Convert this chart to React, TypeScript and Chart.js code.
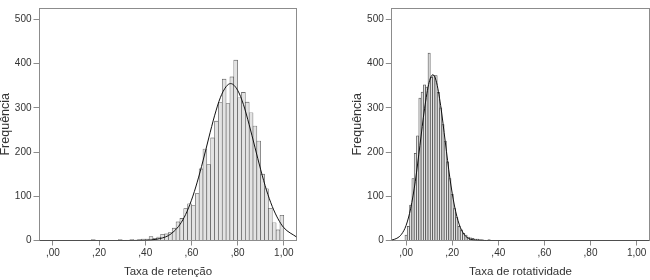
import React, { useEffect, useRef } from "react";
import { Chart, registerables } from "chart.js";

Chart.register(...registerables);

// ---------- data: Taxa de retenção ----------
const RET_BIN_WIDTH = 1 / 60;
const RET_FIRST_BIN_INDEX = 10; // first bin lower edge = index * width
const RET_COUNTS = [
  2, 0, 0, 0, 0, 0, 0, 2, 1, 0, 2, 1, 2, 3, 3, 9, 5, 8, 14, 15, 18, 28, 42, 50, 72, 83,
  79, 106, 162, 207, 172, 232, 270, 312, 365, 310, 370, 408,
  323, 335, 313, 289, 259, 225, 150, 117, 73, 40, 24, 57,
];
const RET_CURVE_X = [
  -0.058, 0.3, 0.4, 0.45, 0.5, 0.525, 0.55, 0.575, 0.6, 0.625, 0.65, 0.675, 0.7, 0.725,
  0.75, 0.77, 0.8, 0.825, 0.85, 0.875, 0.9, 0.925, 0.95, 0.975, 1.0, 1.055,
];
const RET_CURVE_Y = [
  0, 0, 0.5, 3, 11, 21, 36, 59, 91, 132, 180, 232, 282, 323,
  348, 355, 340, 308, 262, 211, 160, 114, 77, 49, 29, 8,
];

// ---------- data: Taxa de rotatividade ----------
const ROT_BIN_WIDTH = 0.01;
const ROT_FIRST_CENTER = 0;
const ROT_COUNTS = [
  12, 32, 80, 140, 197, 237, 322, 336, 352, 347, 424, 369, 373, 373, 335, 300, 262, 225,
  178, 140, 105, 72, 52, 32, 24, 16, 12, 8, 6, 5, 3, 3, 2, 2, 1, 1, 2, 0, 0, 0, 0, 1, 1,
];
const ROT_CURVE_X = [
  -0.062, -0.04, -0.02, 0, 0.02, 0.04, 0.06, 0.08, 0.1, 0.116, 0.13, 0.15, 0.17, 0.19,
  0.21, 0.23, 0.25, 0.27, 0.3, 0.35, 0.45, 1.055,
];
const ROT_CURVE_Y = [
  1, 5, 14, 34, 73, 134, 215, 298, 358, 375, 362, 305, 223, 141, 78, 37, 15, 5, 1, 0, 0, 0,
];

// ---------- axes ----------
const X_TICKS = [0, 0.2, 0.4, 0.6, 0.8, 1.0];
const X_TICK_LABELS = [",00", ",20", ",40", ",60", ",80", "1,00"];
const Y_TICKS = [0, 100, 200, 300, 400, 500];
const Y_TITLE = "Frequência";
const RET_TITLE = "Taxa de retenção";
const ROT_TITLE = "Taxa de rotatividade";

const FONT = "'Liberation Sans', Arial, sans-serif";
const FRAME = "#8c8c8c";
const TEXT = "#333333";

type Spec = {
  centers: number[];
  counts: number[];
  curveX: number[];
  curveY: number[];
  title: string;
  xMin: number;
  xMax: number;
  padLeft: number;
  padRight: number;
  barBorder: number;
};

function buildConfig(s: Spec): any {
  const bars = s.counts
    .map((c, i) => ({ x: s.centers[i], y: c }))
    .filter((p) => p.y > 0);
  const curve = s.curveX.map((x, i) => ({ x, y: s.curveY[i] }));
  return {
    type: "bar",
    data: {
      datasets: [
        {
          type: "line",
          data: curve,
          borderColor: "#111111",
          borderWidth: 1,
          pointRadius: 0,
          fill: false,
          cubicInterpolationMode: "monotone",
          order: 0,
        },
        {
          type: "bar",
          data: bars,
          backgroundColor: "#e3e3e3",
          borderColor: "#4a4a4a",
          borderWidth: s.barBorder,
          borderSkipped: "start",
          barPercentage: 1,
          categoryPercentage: 1,
          order: 1,
        },
      ],
    },
    options: {
      responsive: false,
      animation: false,
      events: [],
      layout: { padding: { left: s.padLeft, right: s.padRight, top: 0, bottom: 0 } },
      plugins: { legend: { display: false }, tooltip: { enabled: false } },
      scales: {
        x: {
          type: "linear",
          position: "bottom",
          min: s.xMin,
          max: s.xMax,
          offset: false,
          grid: {
            display: true,
            drawOnChartArea: false,
            drawTicks: true,
            tickLength: 5,
            color: FRAME,
            offset: false,
          },
          border: { display: true, color: FRAME, width: 1 },
          afterBuildTicks: (scale: any) => {
            scale.ticks = X_TICKS.map((v) => ({ value: v }));
          },
          ticks: {
            autoSkip: false,
            maxRotation: 0,
            padding: 2,
            color: TEXT,
            font: { family: FONT, size: 10 },
            callback: (_v: any, i: number) => X_TICK_LABELS[i],
          },
          title: {
            display: true,
            text: s.title,
            color: TEXT,
            font: { family: FONT, size: 11.5 },
            padding: { top: 0, bottom: 1 },
          },
          afterFit: (scale: any) => {
            scale.height = 39.5;
          },
        },
        y: {
          type: "linear",
          position: "left",
          min: 0,
          max: 526,
          grid: {
            display: true,
            drawOnChartArea: false,
            drawTicks: true,
            tickLength: 6,
            color: FRAME,
          },
          border: { display: true, color: FRAME, width: 1 },
          afterBuildTicks: (scale: any) => {
            scale.ticks = Y_TICKS.map((v) => ({ value: v }));
          },
          ticks: {
            padding: 2,
            color: TEXT,
            font: { family: FONT, size: 10 },
          },
          title: {
            display: true,
            text: Y_TITLE,
            color: TEXT,
            font: { family: FONT, size: 12.5 },
            padding: { top: -2, bottom: 0 },
          },
          afterFit: (scale: any) => {
            scale.width = 39.5;
          },
        },
        xTop: {
          type: "linear",
          position: "top",
          min: s.xMin,
          max: s.xMax,
          ticks: { display: false },
          grid: { display: true, drawOnChartArea: false, drawTicks: false },
          border: { display: true, color: FRAME, width: 1 },
          afterFit: (scale: any) => {
            scale.height = 0;
          },
        },
        yRight: {
          type: "linear",
          position: "right",
          min: 0,
          max: 526,
          ticks: { display: false },
          grid: { display: true, drawOnChartArea: false, drawTicks: false },
          border: { display: true, color: FRAME, width: 1 },
          afterFit: (scale: any) => {
            scale.width = 0;
          },
        },
      },
    },
  };
}

const retCenters = RET_COUNTS.map((_, i) => (RET_FIRST_BIN_INDEX + i + 0.5) * RET_BIN_WIDTH);
const rotCenters = ROT_COUNTS.map((_, i) => ROT_FIRST_CENTER + i * ROT_BIN_WIDTH);

const LEFT_SPEC: Spec = {
  centers: retCenters,
  counts: RET_COUNTS,
  curveX: RET_CURVE_X,
  curveY: RET_CURVE_Y,
  title: RET_TITLE,
  xMin: -0.058,
  xMax: 1.055,
  padLeft: 0,
  padRight: 28.5,
  barBorder: 0.6,
};

const RIGHT_SPEC: Spec = {
  centers: rotCenters,
  counts: ROT_COUNTS,
  curveX: ROT_CURVE_X,
  curveY: ROT_CURVE_Y,
  title: ROT_TITLE,
  xMin: -0.062,
  xMax: 1.055,
  padLeft: 27.3,
  padRight: 0.7,
  barBorder: 0.75,
};

function Histogram({ spec, left }: { spec: Spec; left: number }) {
  const ref = useRef<HTMLCanvasElement>(null);
  useEffect(() => {
    if (!ref.current) return;
    const chart = new Chart(ref.current, buildConfig(spec));
    return () => chart.destroy();
  }, [spec]);
  return (
    <canvas
      ref={ref}
      width={325}
      height={280}
      style={{ position: "absolute", top: 0, left, width: 325, height: 280 }}
    />
  );
}

export default function App() {
  return (
    <div
      style={{
        position: "absolute",
        top: 0,
        left: 0,
        width: 650,
        height: 280,
        background: "#ffffff",
        overflow: "hidden",
      }}
    >
      <Histogram spec={LEFT_SPEC} left={0} />
      <Histogram spec={RIGHT_SPEC} left={325} />
    </div>
  );
}
